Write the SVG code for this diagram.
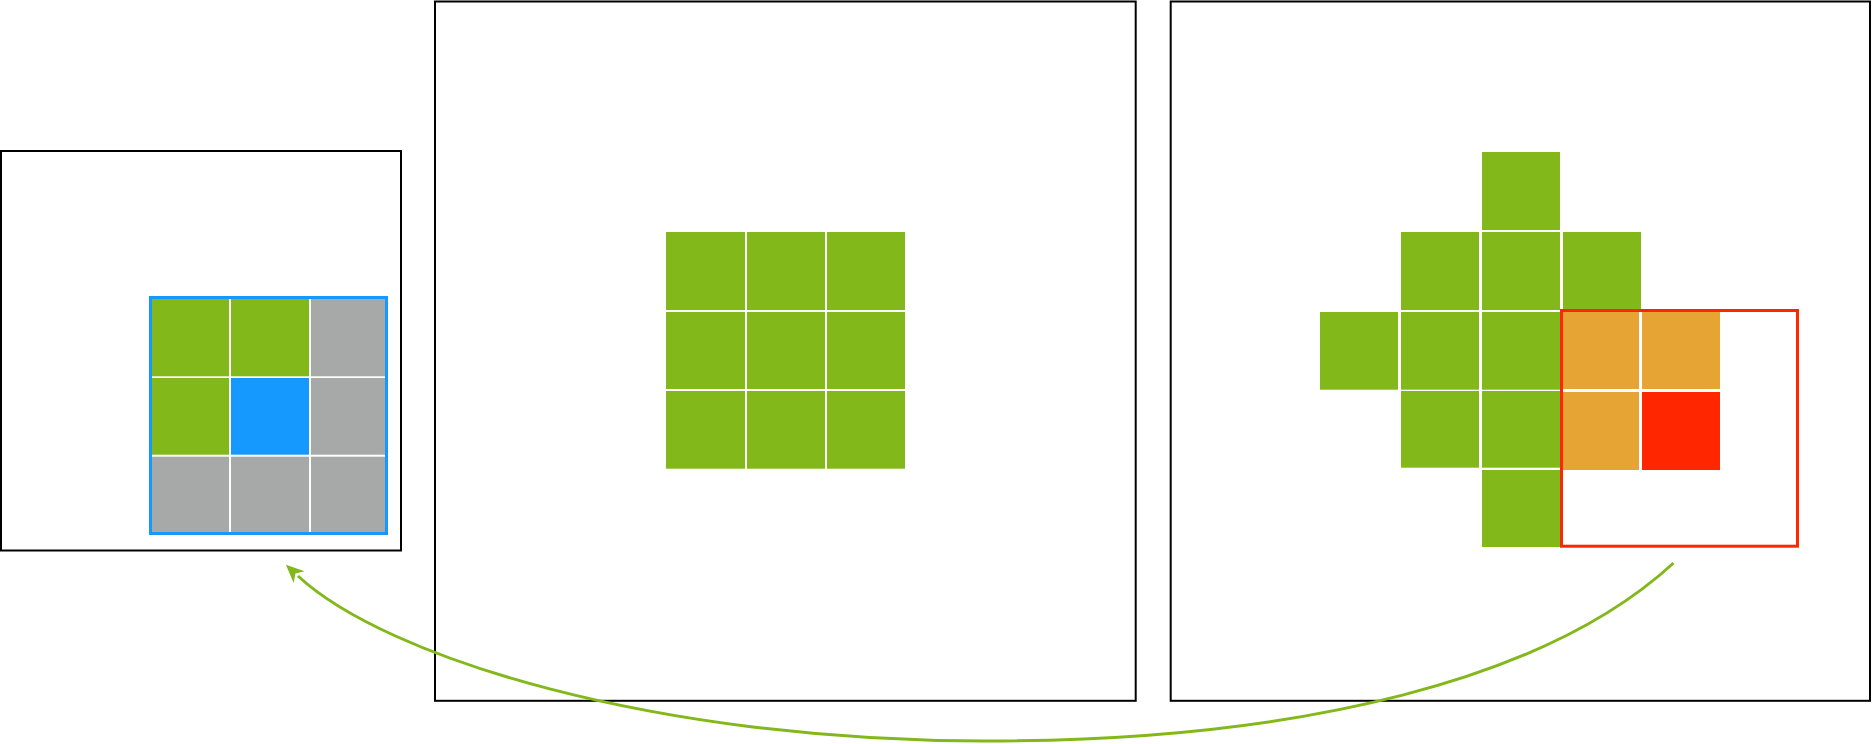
<svg xmlns="http://www.w3.org/2000/svg" width="1872" height="744" viewBox="0 0 1872 744">
  <style>
    .panel { fill: #ffffff; stroke: #000000; stroke-width: 2; }
    .g { fill: #82B81A; }
    .b { fill: #1599FF; }
    .gr { fill: #A6A9A8; }
    .o { fill: #E6A434; }
    .r { fill: #FF2600; }
    .conn { fill: none; stroke: #82B81A; stroke-width: 3; }
  </style>
  <defs>
    <marker id="arrow" markerUnits="userSpaceOnUse" markerWidth="26" markerHeight="22" viewBox="-3 -11 23 22" refX="0" refY="0" orient="auto">
      <path d="M16.5,0 L-1.5,-8 L3.5,0 L-1.5,8 Z" fill="#82B81A"/>
    </marker>
  </defs>
  <rect width="1872" height="744" fill="#ffffff"/>

  <g id="panel-left">
    <rect class="panel" x="1" y="151" width="400" height="399.5"/>
    <g id="kernel-grid">
      <rect class="g" x="150" y="297" width="79" height="79.3"/>
      <rect class="g" x="231" y="297" width="78" height="79.3"/>
      <rect class="gr" x="311" y="297" width="76" height="79.3"/>
      <rect class="g" x="150" y="378" width="79" height="76.7"/>
      <rect class="b" x="231" y="378" width="78" height="76.7"/>
      <rect class="gr" x="311" y="378" width="76" height="76.7"/>
      <rect class="gr" x="150" y="456.7" width="79" height="77"/>
      <rect class="gr" x="231" y="456.7" width="78" height="77"/>
      <rect class="gr" x="311" y="456.7" width="76" height="77"/>
      <rect x="150.5" y="297.5" width="236" height="236" fill="none" stroke="#1599FF" stroke-width="3"/>
    </g>
  </g>

  <g id="panel-middle">
    <rect class="panel" x="435" y="1.5" width="700.7" height="699.3"/>
    <g id="input-grid">
      <rect class="g" x="666" y="232" width="79" height="78"/>
      <rect class="g" x="747" y="232" width="78" height="78"/>
      <rect class="g" x="827" y="232" width="78" height="78"/>
      <rect class="g" x="666" y="312" width="79" height="77"/>
      <rect class="g" x="747" y="312" width="78" height="77"/>
      <rect class="g" x="827" y="312" width="78" height="77"/>
      <rect class="g" x="666" y="391" width="79" height="77.7"/>
      <rect class="g" x="747" y="391" width="78" height="77.7"/>
      <rect class="g" x="827" y="391" width="78" height="77.7"/>
    </g>
  </g>

  <g id="panel-right">
    <rect class="panel" x="1170.7" y="1.5" width="699.3" height="699.3"/>
    <g id="output-grid">
      <rect class="g" x="1482" y="152" width="78" height="78"/>
      <rect class="g" x="1401" y="232" width="78" height="78"/>
      <rect class="g" x="1482" y="232" width="78" height="78"/>
      <rect class="g" x="1563" y="232" width="78" height="78"/>
      <rect class="g" x="1320" y="312" width="78" height="77.7"/>
      <rect class="g" x="1401" y="312" width="78" height="77.7"/>
      <rect class="g" x="1482" y="312" width="78" height="77.7"/>
      <rect class="o" x="1561" y="312" width="78" height="77"/>
      <rect class="o" x="1642" y="312" width="78" height="77"/>
      <rect class="g" x="1401" y="391" width="78" height="76.7"/>
      <rect class="g" x="1482" y="391" width="78" height="76.7"/>
      <rect class="o" x="1561" y="392" width="78" height="78"/>
      <rect class="r" x="1642" y="392" width="78" height="78"/>
      <rect class="g" x="1482" y="470" width="78" height="77"/>
    </g>
    <rect id="window" x="1561.5" y="310.5" width="236" height="235.7" fill="none" stroke="#FF2600" stroke-width="3"/>
  </g>

  <g id="connectors">
    <path class="conn" marker-end="url(#arrow)" d="M1673.5,563 C1548.9,678.1 1305,741 985,741 C655,741 385.8,657.7 298,576"/>
  </g>
</svg>
